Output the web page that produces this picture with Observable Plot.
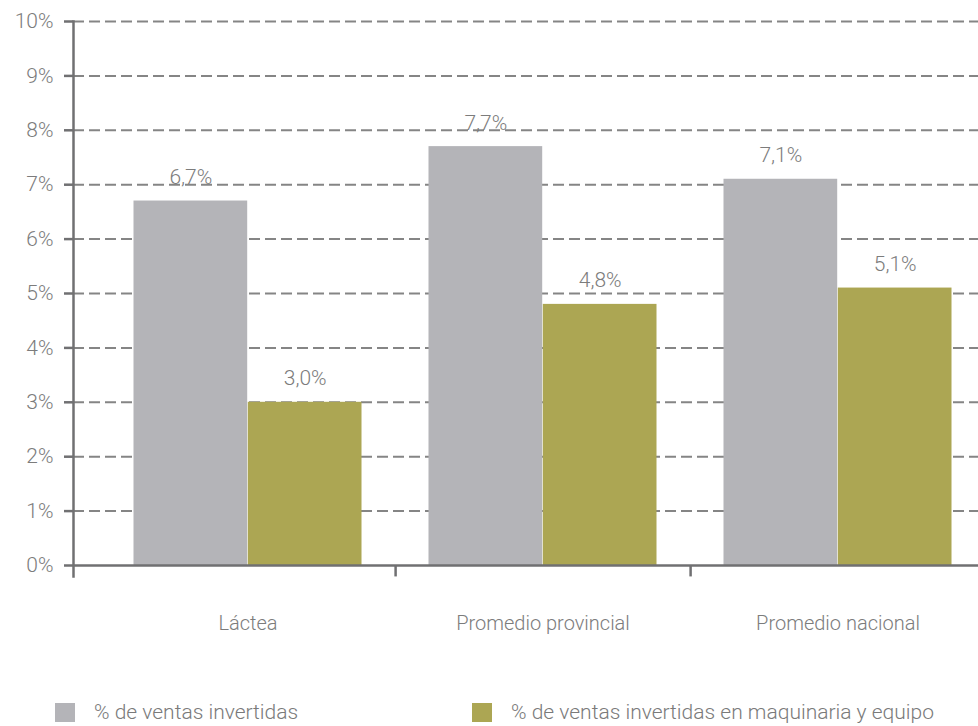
<!DOCTYPE html>
<html>
<head>
<meta charset="utf-8">
<script src="https://cdn.jsdelivr.net/npm/d3@7"></script>
<script src="https://cdn.jsdelivr.net/npm/@observablehq/plot@0.6"></script>
<style>
  html, body { margin: 0; padding: 0; background: #fff; overflow: hidden; }
  #wrap { width: 978px; height: 726px; position: relative; font-family: "Roboto", sans-serif; font-weight: 300; }
  #legend { position: absolute; left: 0; top: 660px; width: 978px; height: 66px; }
  .item { position: absolute; top: 43px; display: flex; align-items: center; }
  .sw { width: 20px; height: 19px; margin-right: 19px; }
  .lab { font-size: 21px; color: #7a7a7a; line-height: 19px; }
  svg text { font-weight: 300; }
</style>
</head>
<body>
<div id="wrap"><div id="chart"></div><div id="legend"></div></div>
<script>
const categories = ["Láctea", "Promedio provincial", "Promedio nacional"];
const seriesNames = ["% de ventas invertidas", "% de ventas invertidas en maquinaria y equipo"];
const ventas = [6.7, 7.7, 7.1];
const maquinaria = [3.0, 4.8, 5.1];
const yTicks = [0, 1, 2, 3, 4, 5, 6, 7, 8, 9, 10];
const colors = ["#b4b4b8", "#aca653"];

const fmt = v => v.toFixed(1).replace(".", ",") + "%";
const d1 = categories.map((c, i) => ({cat: c, v: ventas[i]}));
const d2 = categories.map((c, i) => ({cat: c, v: maquinaria[i]}));

const font = `"Roboto", sans-serif`;
const axisColor = "#707072";
const txtColor = "#7c7c7c";

const chart = Plot.plot({
  width: 978,
  height: 660,
  marginLeft: 73,
  marginRight: 0,
  marginTop: 21,
  marginBottom: 95,
  style: {fontFamily: font, background: "white"},
  x: {type: "band", domain: categories, range: [99.5, 985.5], padding: 0, label: null},
  y: {domain: [0, 10], type: "linear", label: null},
  marks: [
    Plot.ruleY(yTicks.filter(d => d > 0), {stroke: "#858585", strokeWidth: 2, strokeDasharray: "11,5"}),
    Plot.barY(d1, {x: "cat", y: "v", fill: colors[0], insetLeft: 33.5, insetRight: 147.8}),
    Plot.barY(d2, {x: "cat", y: "v", fill: colors[1], insetLeft: 147.8, insetRight: 33.5}),
    Plot.text(d1, {x: "cat", y: "v", text: d => fmt(d.v), dx: -57.2, dy: -17, lineAnchor: "bottom", fontSize: 21, fill: txtColor}),
    Plot.text(d2, {x: "cat", y: "v", text: d => fmt(d.v), dx: 57.2, dy: -17, lineAnchor: "bottom", fontSize: 21, fill: txtColor}),
    Plot.ruleY([0], {stroke: axisColor, strokeWidth: 2.5}),
    Plot.frame({anchor: "left", stroke: axisColor, strokeWidth: 2.5, insetBottom: -11}),
    Plot.ruleX(categories.slice(0, 2), {x: d => d, y1: 0, y2: -0.21, dx: 147.6, stroke: axisColor, strokeWidth: 2.5}),
    Plot.axisY(yTicks, {tickSize: 9, tickPadding: 11, tickFormat: d => d + "%", fontSize: 21, fill: txtColor, stroke: axisColor, strokeWidth: 2.5, strokeOpacity: 1, label: null}),
    Plot.axisX({tickSize: 0, tickPadding: 50, fontSize: 20, fill: txtColor, label: null})
  ]
});
document.getElementById("chart").appendChild(chart);

const legend = document.getElementById("legend");
const lefts = [55, 472];
seriesNames.forEach((n, i) => {
  const it = document.createElement("div");
  it.className = "item";
  it.style.left = lefts[i] + "px";
  it.innerHTML = `<div class="sw" style="background:${colors[i]}"></div><div class="lab">${n}</div>`;
  legend.appendChild(it);
});
</script>
</body>
</html>
